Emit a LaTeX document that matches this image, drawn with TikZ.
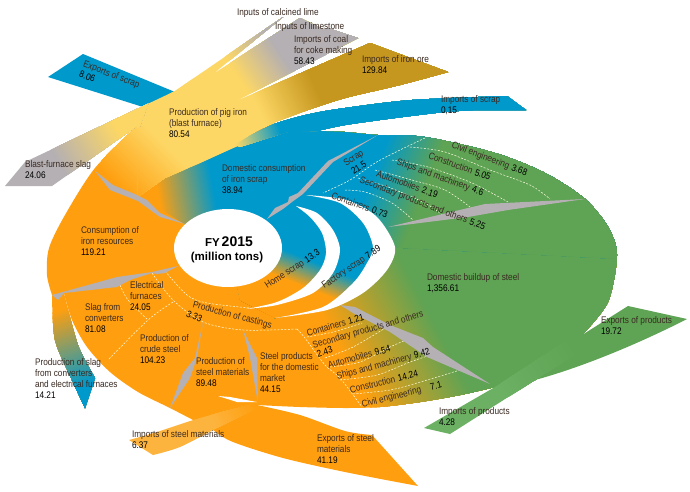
\documentclass[tikz,border=0pt]{standalone}
\usepackage{fontspec}
\usetikzlibrary{shapes.geometric}
\setmainfont{Liberation Sans}
\newfontfamily\lblf[FakeStretch=0.86]{Liberation Sans}
\definecolor{org}{HTML}{FF9F0F}
\definecolor{blu}{HTML}{0099CC}
\definecolor{grn}{HTML}{5FA354}
\definecolor{lgrn}{HTML}{6BB063}
\definecolor{yel}{HTML}{FDD765}
\definecolor{gld}{HTML}{C6971F}
\definecolor{gry}{HTML}{B4B0B3}
\definecolor{lorg}{HTML}{FDB43E}
\definecolor{txt}{HTML}{3A2A22}
\newcommand\nm[1]{\textcolor{black}{#1}}
\newcommand\gap{\hspace{0.3em}}
\newcommand\gradfill[7]{%
  \begin{scope}
    \clip #1;
    \pgfmathsetmacro\gAng{atan2(-(#5-#3),(#4-#2))}
    \pgfmathsetmacro\gLen{veclen(#4-#2,#5-#3)}
    \begin{scope}[shift={(#2,#3)},rotate=\gAng]
      \fill[#6] (-1500,-1500) rectangle (1500,1500);
      \foreach \gI in {1,...,40}{
        \pgfmathsetmacro\gP{100*(\gI-0.5)/40}
        \pgfmathsetmacro\gX{\gLen*(\gI-1)/40}
        \fill[#7!\gP!#6] (\gX,-1500) rectangle (1500,1500);
      }
      \fill[#7] (\gLen,-1500) rectangle (1500,1500);
    \end{scope}
  \end{scope}}
\tikzset{
  lbl/.style={inner sep=0pt,outer sep=0pt,align=left,text=txt,
    font=\lblf\fontsize{9.6}{10.8}\selectfont},
  rlbl/.style={lbl,anchor=west},
  spike/.style={fill=gry,draw=none},
  dash line/.style={draw=white!88!yellow,line width=0.5pt,dash pattern=on 2pt off 1.5pt,smooth}
}
\def\bodypath{plot[smooth] coordinates {(137,126) (95,168) (65,215) (49,248) (47,275) (52,295)}
  -- plot[smooth] coordinates {(64,293) (72,320) (87,347) (110,372) (138,392) (170,408) (197,422)}
  -- plot[smooth] coordinates {(257,405) (300,407) (345,408) (380,407) (420,402) (460,395) (495,387)}
  -- (535,380)
  -- plot[smooth] coordinates {(582,335) (608,302) (617,255) (608,227) (585,199) (545,173) (495,153) (425,137) (378,135) (345,132) (317,131)}
  -- cycle}
\def\armpath{(5,186) -- (25,162) -- (175,91) -- (283,17) -- (213,74) -- (300,18) -- (325,30) -- (220,87)
  -- (328,28) -- (358,38) -- (232,103) -- (370,43) -- (448,72)
  -- plot[smooth] coordinates {(448,72) (400,85) (345,98) (305,111) (273,123)}
  -- plot[smooth] coordinates {(287,131) (240,145) (200,163) (165,178) (138,197)}
  -- (137,126) -- (52,186) -- cycle}
\begin{document}
\begin{tikzpicture}[x=1pt,y=-1pt]
\useasboundingbox (0,0) rectangle (690,491);
\fill[white] (0,0) rectangle (690,491);
% arms below the body
\fill[blu] (48,77) -- (83,54) -- (175,92) -- (143,107) -- cycle;
\gradfill{plot[smooth] coordinates {(52,295) (55,340) (72,380) (85,408)} -- (95,378) -- plot[smooth] coordinates {(95,378) (78,345) (64,293)} -- cycle}{60}{310}{85}{385}{org}{blu}
\fill[grn] (582,335) -- (628,306) -- (687,319) .. controls (650,338) and (590,365) .. (535,380) -- (495,387) -- cycle;
% body
\begin{scope}
  \clip \bodypath;
  \gradfill{(0,0) rectangle (690,491)}{345}{360}{430}{315}{org}{grn}
  \gradfill{(130,115) -- (290,115) -- (285,250) -- (228,250) -- (185,224) -- (130,190) -- cycle}{160}{205}{215}{195}{org}{blu}
  \gradfill{(285,100) -- (640,100) -- (640,260) -- (384,247) -- (370,220) -- (345,201) -- (306,195) -- (285,205) -- cycle}{375}{170}{425}{190}{blu}{grn}
  \gradfill{(255,205) -- (306,195) -- (345,201) -- (370,220) -- (384,247) -- (377,267) -- (358,288) -- (325,308) -- (275,318) -- (240,300) -- (230,250) -- cycle}{297}{255}{287}{280}{blu}{org}
  \gradfill{(95,171) -- (138,197) -- (165,178) -- (200,163) -- (240,145) -- (287,131) -- (287,110) -- (137,110) -- cycle}{160}{140}{115}{185}{yel}{org}
\end{scope}
% exports of steel materials
\fill[org] plot[smooth] coordinates {(195,415) (213,430) (233,442) (283,458) (345,472) (418,486)} -- (372,435)
  -- plot[smooth] coordinates {(372,435) (345,431) (300,415) (257,405)} -- cycle;
% yellow arms
\begin{scope}
  \clip \armpath;
  \gradfill{(136,126) -- (150,85) -- (690,0) -- (690,491) -- (136,491) -- cycle}{160}{140}{115}{185}{yel}{org}
  \gradfill{(0,200) -- (60,200) -- (140,126) -- (155,85) -- (0,130) -- cycle}{60}{165}{118}{130}{gry}{yel}
  \gradfill{(170,110) -- (170,0) -- (375,0) -- (362,38) -- (232,103) -- (190,110) -- cycle}{235}{72}{275}{45}{yel}{gry}
  \gradfill{(232,103) -- (362,38) -- (460,60) -- (460,80) -- (273,125) -- (225,125) -- cycle}{255}{100}{310}{75}{yel}{gld}
\end{scope}
% imports of scrap
\gradfill{plot[smooth] coordinates {(235,145) (255,133) (277,123) (310,114) (345,108) (412,100) (507,96)} -- (526,110) -- plot[smooth] coordinates {(478,110) (445,112) (395,118) (345,125) (317,131)} -- (287,132) -- (240,147) -- cycle}{235}{142}{280}{128}{yel}{blu}
% imports of steel materials
\gradfill{(129,440) -- plot[smooth] coordinates {(129,440) (157,432) (200,418) (257,403)} -- plot[smooth] coordinates {(257,408) (217,428) (180,447) (153,455)} -- cycle}{215}{425}{255}{405}{lorg}{org}
% imports of products
\gradfill{(424,428) -- (495,387) -- (560,345) -- (582,335) -- (590,345) -- (535,380) -- (450,434) -- cycle}{500}{385}{572}{342}{lgrn}{grn}
% white
\fill[white] (218,396) -- (230,397) -- (257,402) -- (237,402) -- cycle;
\fill[white] plot[smooth] coordinates {(296,206) (317,213) (333,230) (340,250) (333,273) (313,293) (277,305) (246,309)}
  -- plot[smooth] coordinates {(246,309) (277,302) (303,288) (320,270) (326,253) (322,233) (310,217) (296,206)} -- cycle;
\fill[white] plot[smooth] coordinates {(306,195) (347,200) (377,217) (395,247) (387,270) (363,293) (327,310) (275,318)}
  -- plot[smooth] coordinates {(275,318) (323,307) (353,283) (367,263) (373,247) (363,223) (340,203) (306,195)} -- cycle;
\node[ellipse,fill=white,inner sep=0pt,minimum width=108pt,minimum height=78pt,draw=none] (center) at (228,248) {};
% dashed lines upper right
\draw[dash line] plot[smooth] coordinates {(425,138) (400,150) (375,163) (350,180) (323,193)};
\draw[dash line] plot[smooth] coordinates {(410,147) (445,152) (490,170) (530,185) (550,199)};
\draw[dash line] plot[smooth] coordinates {(392,160) (428,167) (472,183) (508,202)};
\draw[dash line] plot[smooth] coordinates {(375,170) (412,180) (445,190) (470,207)};
\draw[dash line] plot[smooth] coordinates {(358,178) (388,187) (425,203) (445,217)};
\draw[dash line] plot[smooth] coordinates {(345,190) (365,192) (392,203) (413,220)};
% dashed lines lower left
\draw[dash line] plot[smooth] coordinates {(152,273) (173,300) (203,322) (243,330) (297,329)};
\draw[dash line] plot[smooth] coordinates {(165,271) (187,295) (207,303) (250,308)};
\draw[dash line] plot[smooth] coordinates {(173,302) (148,320) (108,360)};
\draw[dash line] plot[smooth] coordinates {(120,285) (128,300) (148,320)};
% dashed lines lower right
\draw[dash line] plot[smooth] coordinates {(297,329) (305,338) (325,365) (340,378) (362,407)};
\draw[dash line] plot[smooth] coordinates {(307,337) (333,332) (362,323)};
\draw[dash line] plot[smooth] coordinates {(325,358) (353,347) (387,327)};
\draw[dash line] plot[smooth] coordinates {(330,367) (360,362) (390,347) (413,337)};
\draw[dash line] plot[smooth] coordinates {(340,380) (377,375) (410,362) (437,353)};
\draw[dash line] plot[smooth] coordinates {(353,394) (390,390) (417,383) (460,370)};
% grey spikes
\fill[spike] (267,219) -- (275,208) -- (288,202) -- (289,197) -- (298,193) -- (328,161) -- (378,135) -- (333,162) -- (303,194) -- (292,202) -- (283,209) -- cycle;
\fill[spike] (95,171) -- (113,185) -- (137,195) -- (147,200) -- (160,213) -- (185,224) -- (160,217) -- (138,201) -- (110,190) -- cycle;
\fill[spike] (52,295) -- (117,277) -- (152,272) -- (178,266) -- (165,273) -- (157,274) -- (152,273) -- (130,280) -- (117,287) -- (64,293) -- (58,300) -- cycle;
\fill[spike] (203,322) -- (197,358) -- (190,378) -- (170,408) -- (183,373) -- (195,358) -- cycle;
\fill[spike] (243,330) -- (257,358) -- (258,403) -- (250,358) -- cycle;
\fill[spike] (340,305) -- (355,307) -- (390,325) -- (423,338) -- (433,347) -- (490,384) -- (427,357) -- (390,332) -- (353,313) -- cycle;
\fill[spike] (388,227) -- (468,208) -- (485,204) -- (585,199) -- (508,210) -- (468,217) -- cycle;
% labels
\node[lbl,anchor=west] (t01) at (237,13) {Inputs of calcined lime};
\node[lbl,anchor=west] (t02) at (275,27) {Inputs of limestone};
\node[lbl,anchor=north west] (t03) at (294,36) {Imports of coal\\for coke making\\\nm{58.43}};
\node[lbl,anchor=north west] (t04) at (362,56) {Imports of iron ore\\\nm{129.84}};
\node[lbl,anchor=north west] (t05) at (441,96) {Imports of scrap\\\nm{0,15}};
\node[lbl,anchor=north west,rotate=-21] (t06) at (85,60) {Exports of scrap\\\nm{8.06}};
\node[lbl,anchor=north west] (t07) at (169,109) {Production of pig iron\\(blast furnace)\\\nm{80.54}};
\node[lbl,anchor=north west] (t08) at (25,161) {Blast-furnace slag\\\nm{24.06}};
\node[lbl,anchor=north west] (t09) at (222,165) {Domestic consumption\\of iron scrap\\\nm{38.94}};
\node[lbl,anchor=north west] (t10) at (81,227) {Consumption of\\iron resources\\\nm{119.21}};
\node[inner sep=0pt,anchor=center,font=\bfseries] (t11) at (229,242) {{\fontsize{11.5}{13}\selectfont FY\,}{\fontsize{14}{15}\selectfont 2015}};
\node[inner sep=0pt,anchor=center,font=\bfseries\fontsize{11.5}{13}\selectfont] (t12) at (227,258) {(million tons)};
\node[rlbl,rotate=33] (t13) at (266,287) {Home scrap\gap\nm{13.3}};
\node[rlbl,rotate=34] (t14) at (323,287) {Factory scrap\gap\nm{7.89}};
\node[rlbl,rotate=35] (t15) at (345,165) {Scrap};
\node[rlbl,rotate=33,text=black] (t16) at (352,172) {21.5};
\node[rlbl,rotate=-20] (t17) at (332,195) {Containers\gap\nm{0.73}};
\node[rlbl,rotate=-21] (t18) at (360,180) {Secondary products and others\gap\nm{5.25}};
\node[rlbl,rotate=-20] (t19) at (377,173) {Automobiles\gap\nm{2.19}};
\node[rlbl,rotate=-20] (t20) at (397,162) {Ships and machinery\gap\nm{4.6}};
\node[rlbl,rotate=-20] (t21) at (429,155) {Construction\gap\nm{5.05}};
\node[rlbl,rotate=-21] (t22) at (452,145) {Civil engineering\gap\nm{3.68}};
\node[lbl,anchor=north west] (t23) at (427,274) {Domestic buildup of steel\\\nm{1,356.61}};
\node[lbl,anchor=north west] (t24) at (601,317) {Exports of products\\\nm{19.72}};
\node[lbl,anchor=north west] (t25) at (439,408) {Imports of products\\\nm{4.28}};
\node[lbl,anchor=north west] (t26) at (317,435) {Exports of steel\\materials\\\nm{41.19}};
\node[lbl,anchor=north west] (t27) at (132,431) {Imports of steel materials\\\nm{6.37}};
\node[lbl,anchor=north west] (t28) at (35,359) {Production of slag\\from converters\\and electrical furnaces\\\nm{14.21}};
\node[lbl,anchor=north west] (t29) at (85,304) {Slag from\\converters\\\nm{81.08}};
\node[lbl,anchor=north west] (t30) at (130,282) {Electrical\\furnaces\\\nm{24.05}};
\node[lbl,anchor=north west] (t31) at (140,335) {Production of\\crude steel\\\nm{104.23}};
\node[rlbl,rotate=-15] (t32) at (193,305) {Production of castings};
\node[rlbl,rotate=-25,text=black] (t33) at (187,313) {3.33};
\node[lbl,anchor=north west] (t34) at (196,358) {Production of\\steel materials\\\nm{89.48}};
\node[lbl,anchor=north west] (t35) at (260,353) {Steel products\\for the domestic\\market\\\nm{44.15}};
\node[rlbl,rotate=16] (t36) at (307,333) {Containers\gap\nm{1.21}};
\node[rlbl,rotate=16] (t37) at (313,346) {Secondary products and others};
\node[rlbl,rotate=18,text=black] (t38) at (317,354) {2.43};
\node[rlbl,rotate=15] (t39) at (328,365) {Automobiles\gap\nm{9.54}};
\node[rlbl,rotate=15] (t40) at (337,377) {Ships and machinery\gap\nm{9.42}};
\node[rlbl,rotate=14] (t41) at (350,390) {Construction\gap\nm{14.24}};
\node[rlbl,rotate=14] (t42) at (362,405) {Civil engineering\quad\nm{7.1}};
\end{tikzpicture}
\end{document}
